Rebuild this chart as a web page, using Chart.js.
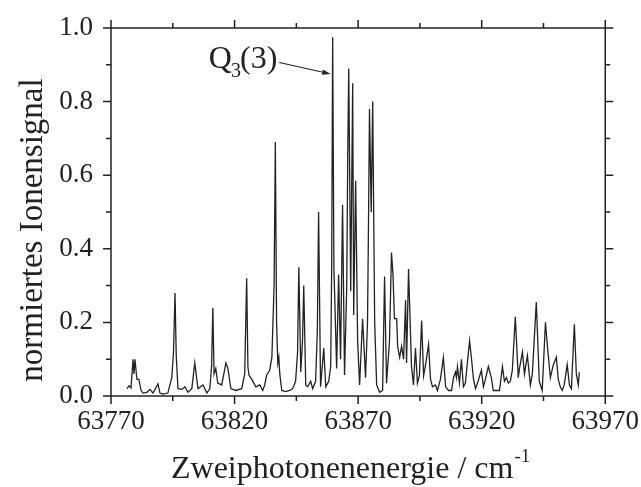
<!DOCTYPE html>
<html>
<head>
<meta charset="utf-8">
<script src="https://cdn.jsdelivr.net/npm/chart.js@4.4.1/dist/chart.umd.min.js"></script>
<style>
  html, body { margin: 0; padding: 0; background: #fff; }
  #spectrum { display: block; }
</style>
</head>
<body>
<canvas id="spectrum" width="641" height="487"></canvas>
<script>
// two-photon energy (cm^-1) and normalised ion signal
const wavenumber = [
  63776.5, 63777.3, 63778.1, 63778.9, 63779.3, 63779.7, 63780.5, 63781.3, 63782.1, 63782.9,
  63784.5, 63785.8, 63787.0, 63789.0, 63789.8, 63791.0, 63793.0, 63794.6, 63795.3, 63795.9,
  63796.4, 63797.1, 63798.7, 63799.9, 63801.1, 63802.7, 63803.9, 63805.2, 63807.2, 63808.8,
  63810.0, 63810.7, 63811.2, 63811.7, 63812.4, 63813.2, 63814.8, 63816.5, 63817.3, 63818.5,
  63820.5, 63822.9, 63824.1, 63824.9, 63825.4, 63825.8, 63827.0, 63827.8, 63828.6, 63830.2,
  63831.4, 63832.2, 63833.0, 63834.2, 63835.1, 63836.0, 63836.5, 63837.0, 63837.5, 63837.9,
  63838.3, 63839.1, 63840.7, 63842.3, 63843.5, 63844.7, 63845.5, 63846.0, 63846.8, 63847.5,
  63848.0, 63848.8, 63849.6, 63850.8, 63851.6, 63852.8, 63853.5, 63854.0, 63854.8, 63856.1,
  63856.9, 63858.1, 63858.9, 63859.3, 63859.7, 63860.2, 63861.3, 63862.1, 63862.9, 63863.7,
  63864.5, 63865.4, 63865.8, 63866.2, 63867.0, 63867.8, 63868.2, 63869.0, 63869.8, 63870.6,
  63871.8, 63873.0, 63873.8, 63874.2, 63874.6, 63875.3, 63875.9, 63876.7, 63877.5, 63878.7,
  63879.9, 63880.7, 63881.5, 63882.7, 63883.5, 63884.1, 63884.7, 63885.6, 63886.0, 63886.8,
  63887.6, 63888.4, 63889.2, 63889.6, 63890.4, 63891.6, 63892.4, 63893.2, 63894.0, 63894.8,
  63895.7, 63896.5, 63897.3, 63898.5, 63899.3, 63900.1, 63901.3, 63902.1, 63903.3, 63904.5,
  63905.4, 63906.6, 63907.8, 63908.6, 63909.4, 63909.8, 63910.2, 63911.0, 63911.8, 63912.6,
  63913.4, 63915.1, 63915.9, 63916.7, 63917.5, 63918.3, 63919.9, 63920.7, 63921.5, 63922.7,
  63923.9, 63924.7, 63927.2, 63928.4, 63929.2, 63930.0, 63930.8, 63931.6, 63932.4, 63933.6,
  63934.8, 63935.3, 63936.5, 63937.3, 63938.5, 63939.7, 63940.5, 63942.1, 63943.3, 63944.5,
  63945.8, 63946.6, 63947.8, 63949.0, 63950.2, 63951.0, 63951.8, 63952.6, 63953.4, 63954.6,
  63955.5, 63956.3, 63957.5, 63958.3, 63959.1, 63959.5
];

const ionSignal = [
  0.020, 0.028, 0.022, 0.100, 0.060, 0.100, 0.045, 0.045, 0.016, 0.008,
  0.010, 0.018, 0.008, 0.033, 0.008, 0.005, 0.008, 0.050, 0.120, 0.280,
  0.110, 0.020, 0.018, 0.025, 0.010, 0.020, 0.090, 0.020, 0.030, 0.008,
  0.020, 0.080, 0.240, 0.060, 0.075, 0.035, 0.030, 0.090, 0.075, 0.020,
  0.015, 0.020, 0.060, 0.320, 0.080, 0.057, 0.045, 0.035, 0.025, 0.030,
  0.015, 0.030, 0.057, 0.070, 0.105, 0.300, 0.690, 0.200, 0.090, 0.105,
  0.060, 0.015, 0.012, 0.015, 0.020, 0.040, 0.120, 0.350, 0.065, 0.150,
  0.300, 0.030, 0.025, 0.040, 0.020, 0.040, 0.180, 0.500, 0.025, 0.130,
  0.025, 0.040, 0.080, 0.350, 0.975, 0.350, 0.075, 0.330, 0.100, 0.520,
  0.057, 0.300, 0.655, 0.890, 0.285, 0.850, 0.220, 0.585, 0.150, 0.030,
  0.210, 0.050, 0.200, 0.470, 0.780, 0.500, 0.800, 0.200, 0.030, 0.010,
  0.015, 0.325, 0.035, 0.150, 0.390, 0.330, 0.210, 0.210, 0.135, 0.105,
  0.135, 0.100, 0.260, 0.090, 0.345, 0.080, 0.030, 0.130, 0.035, 0.055,
  0.205, 0.055, 0.085, 0.140, 0.045, 0.025, 0.030, 0.015, 0.045, 0.105,
  0.025, 0.015, 0.015, 0.050, 0.065, 0.050, 0.080, 0.035, 0.100, 0.025,
  0.035, 0.150, 0.100, 0.045, 0.020, 0.035, 0.070, 0.025, 0.045, 0.080,
  0.050, 0.015, 0.015, 0.080, 0.040, 0.050, 0.035, 0.040, 0.070, 0.215,
  0.050, 0.075, 0.120, 0.060, 0.110, 0.030, 0.060, 0.255, 0.040, 0.015,
  0.200, 0.135, 0.050, 0.085, 0.105, 0.045, 0.025, 0.015, 0.030, 0.085,
  0.030, 0.020, 0.195, 0.060, 0.030, 0.065
];

const xTicks = [63770, 63820, 63870, 63920, 63970];
const yTicks = [0.0, 0.2, 0.4, 0.6, 0.8, 1.0];

// the labelled line, Q3(3)
const labelledLine = { x: 63859.7, arrowY: 0.875 };

const serif = "'Liberation Serif', 'Times New Roman', serif";
const ink = '#222';

const points = wavenumber.map((x, i) => ({ x, y: ionSignal[i] }));

// frame with outward major/minor ticks on all four sides, plus axis titles
const framePlugin = {
  id: 'frame',
  afterDraw(chart) {
    const { ctx, chartArea: a, scales } = chart;
    const xs = scales.x, ys = scales.y;
    ctx.save();
    ctx.strokeStyle = ink;
    ctx.lineWidth = 1.5;
    ctx.strokeRect(a.left, a.top, a.right - a.left, a.bottom - a.top);
    ctx.beginPath();
    for (let v = xTicks[0]; v <= xTicks[xTicks.length - 1]; v += 25) {
      const px = xs.getPixelForValue(v);
      const len = (v - xTicks[0]) % 50 === 0 ? 8 : 5;
      ctx.moveTo(px, a.bottom); ctx.lineTo(px, a.bottom + len);
      ctx.moveTo(px, a.top); ctx.lineTo(px, a.top - len);
    }
    for (let k = 0; k <= 10; k++) {
      const py = ys.getPixelForValue(k / 10);
      const len = k % 2 === 0 ? 8 : 5;
      ctx.moveTo(a.left, py); ctx.lineTo(a.left - len, py);
      ctx.moveTo(a.right, py); ctx.lineTo(a.right + len, py);
    }
    ctx.stroke();

    ctx.fillStyle = ink;
    ctx.textBaseline = 'alphabetic';
    ctx.font = '32px ' + serif;
    const main = 'Zweiphotonenenergie / cm';
    const w = ctx.measureText(main).width;
    ctx.font = '19px ' + serif;
    const supW = ctx.measureText('-1').width;
    const x0 = (a.left + a.right) / 2 - 8 - (w + supW) / 2;
    ctx.font = '32px ' + serif;
    ctx.textAlign = 'left';
    ctx.fillText(main, x0, 478);
    ctx.font = '19px ' + serif;
    ctx.fillText('-1', x0 + w + 1, 462);

    ctx.translate(42, 230);
    ctx.rotate(-Math.PI / 2);
    ctx.font = '33px ' + serif;
    ctx.textAlign = 'center';
    ctx.fillText('normiertes Ionensignal', 0, 0);
    ctx.restore();
  }
};

// Q3(3) label with an arrow onto its line
const peakLabelPlugin = {
  id: 'peakLabel',
  afterDatasetsDraw(chart) {
    const { ctx, scales } = chart;
    const xs = scales.x, ys = scales.y;
    const tipX = xs.getPixelForValue(labelledLine.x) - 2;
    const tipY = ys.getPixelForValue(labelledLine.arrowY);
    const tx = xs.getPixelForValue(63809.6);
    const ty = ys.getPixelForValue(0.89);
    ctx.save();
    ctx.fillStyle = ink;
    ctx.strokeStyle = ink;
    ctx.textBaseline = 'alphabetic';
    ctx.font = '32px ' + serif;
    ctx.fillText('Q', tx, ty);
    const qw = ctx.measureText('Q').width;
    ctx.font = '20px ' + serif;
    ctx.fillText('3', tx + qw - 1, ty + 9);
    const sw = ctx.measureText('3').width;
    ctx.font = '32px ' + serif;
    const rest = '(3)';
    ctx.fillText(rest, tx + qw + sw - 2, ty);
    const endX = tx + qw + sw - 2 + ctx.measureText(rest).width + 2;
    const startY = ty - 6;

    const ang = Math.atan2(tipY - startY, tipX - endX);
    const head = 9;
    ctx.lineWidth = 1.2;
    ctx.beginPath();
    ctx.moveTo(endX, startY);
    ctx.lineTo(tipX - head * Math.cos(ang), tipY - head * Math.sin(ang));
    ctx.stroke();
    ctx.beginPath();
    ctx.moveTo(tipX, tipY);
    ctx.lineTo(tipX - head * Math.cos(ang - 0.3), tipY - head * Math.sin(ang - 0.3));
    ctx.lineTo(tipX - head * Math.cos(ang + 0.3), tipY - head * Math.sin(ang + 0.3));
    ctx.closePath();
    ctx.fill();
    ctx.restore();
  }
};

new Chart(document.getElementById('spectrum'), {
  type: 'line',
  data: {
    datasets: [{
      data: points,
      borderColor: ink,
      borderWidth: 1.3,
      pointRadius: 0,
      tension: 0,
      fill: false
    }]
  },
  options: {
    responsive: false,
    animation: false,
    events: [],
    layout: { padding: { left: 0, top: 28, right: 35, bottom: 0 } },
    plugins: {
      legend: { display: false },
      tooltip: { enabled: false }
    },
    scales: {
      x: {
        type: 'linear',
        min: xTicks[0],
        max: xTicks[xTicks.length - 1],
        grid: { display: false },
        border: { display: false },
        afterBuildTicks: (s) => { s.ticks = xTicks.map((v) => ({ value: v })); },
        afterFit: (s) => { s.height = 91; },
        ticks: {
          color: ink,
          padding: 2,
          maxRotation: 0,
          font: { family: serif, size: 27 },
          callback: (v) => String(v)
        }
      },
      y: {
        min: 0,
        max: 1,
        grid: { display: false },
        border: { display: false },
        afterBuildTicks: (s) => { s.ticks = yTicks.map((v) => ({ value: v })); },
        afterFit: (s) => { s.width = 111; },
        ticks: {
          color: ink,
          padding: 10,
          font: { family: serif, size: 27 },
          callback: (v) => Number(v).toFixed(1)
        }
      }
    }
  },
  plugins: [framePlugin, peakLabelPlugin]
});
</script>
</body>
</html>
